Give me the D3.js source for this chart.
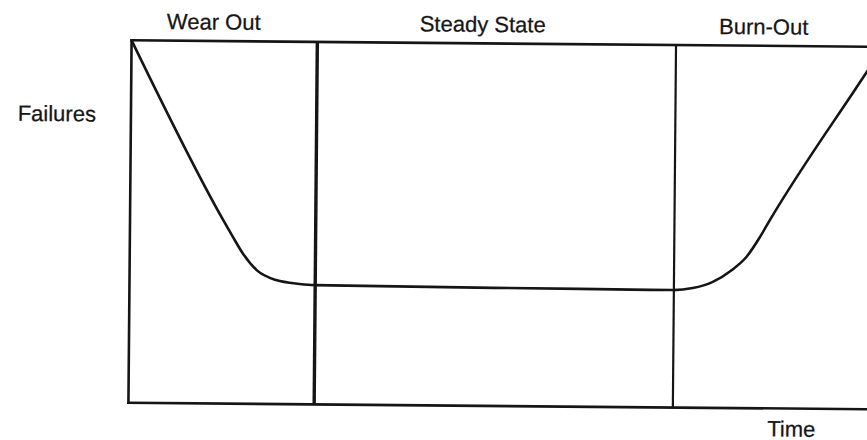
<!DOCTYPE html>
<html>
<head>
<meta charset="utf-8">
<script src="https://cdn.jsdelivr.net/npm/d3@7"></script>
<style>
  html, body { margin: 0; padding: 0; background: #fff; }
  svg { display: block; }
  text { font-family: "Liberation Sans", Arial, Helvetica, sans-serif; fill: #151515; stroke: #151515; stroke-width: 0.25; }
</style>
</head>
<body>
<svg id="chart" width="867" height="440"></svg>
<script>
// ---- data ----
const phases = ["Wear Out", "Steady State", "Burn-Out"];
const phaseBounds = [0, 24.7, 72.4, 100];          // time at phase borders
const curveTime =     [0,  12.4, 13.7, 15.0, 16.9, 19.5, 22.6, 24.6, 59.8, 72.2, 74.9, 77.5, 80.1, 82.0, 83.8, 85.1, 96.4, 100];
const curveFailures = [100, 50.6, 46.0, 41.6, 36.9, 34.2, 33.2, 32.9, 32.5, 32.4, 33.0, 34.7, 38.1, 41.7, 47.3, 52.0, 88.6, 100];
const yLabel = "Failures";
const xLabel = "Time";

// ---- layout ----
const svg = d3.select("#chart");
const x = d3.scaleLinear().domain([0, 100]).range([130, 882]);
const y = d3.scaleLinear().domain([0, 100]).range([406, 43.5]);
const ink = "#151515";
const phaseLabelX = [212, 481, 762];

const g = svg.append("g").attr("transform", "rotate(0.5, 498, 224)");

// box
const box = [
  [[0, 100], [100, 100]],
  [[0, 0], [100, 0]],
  [[0, 0], [0, 100]]
];
g.selectAll("line.box").data(box).join("line")
  .attr("class", "box")
  .attr("x1", d => x(d[0][0])).attr("y1", d => y(d[0][1]))
  .attr("x2", d => x(d[1][0])).attr("y2", d => y(d[1][1]))
  .attr("stroke", ink).attr("stroke-width", 2.6).attr("stroke-linecap", "square");

// phase dividers
const dividers = phaseBounds.slice(1, -1);
g.selectAll("line.div").data(dividers).join("line")
  .attr("class", "div")
  .attr("x1", d => x(d)).attr("x2", d => x(d))
  .attr("y1", y(100)).attr("y2", y(0))
  .attr("stroke", ink)
  .attr("stroke-width", (d, i) => i === 0 ? 3.4 : 2.2);

// bathtub curve
const pts = curveTime.map((t, i) => [t, curveFailures[i]]);
g.append("path")
  .datum(pts)
  .attr("fill", "none")
  .attr("stroke", ink)
  .attr("stroke-width", 2.6)
  .attr("stroke-linejoin", "round")
  .attr("d", d3.line().x(d => x(d[0])).y(d => y(d[1])).curve(d3.curveMonotoneX));

// phase labels
g.selectAll("text.phase").data(phases).join("text")
  .attr("class", "phase")
  .attr("x", (d, i) => phaseLabelX[i])
  .attr("y", 32)
  .attr("text-anchor", "middle")
  .attr("font-size", 22)
  .text(d => d);

g.append("text").attr("x", 95).attr("y", 125).attr("text-anchor", "end").attr("font-size", 22).text(yLabel);
g.append("text").attr("x", 769).attr("y", 434).attr("font-size", 22).text(xLabel);
</script>
</body>
</html>
